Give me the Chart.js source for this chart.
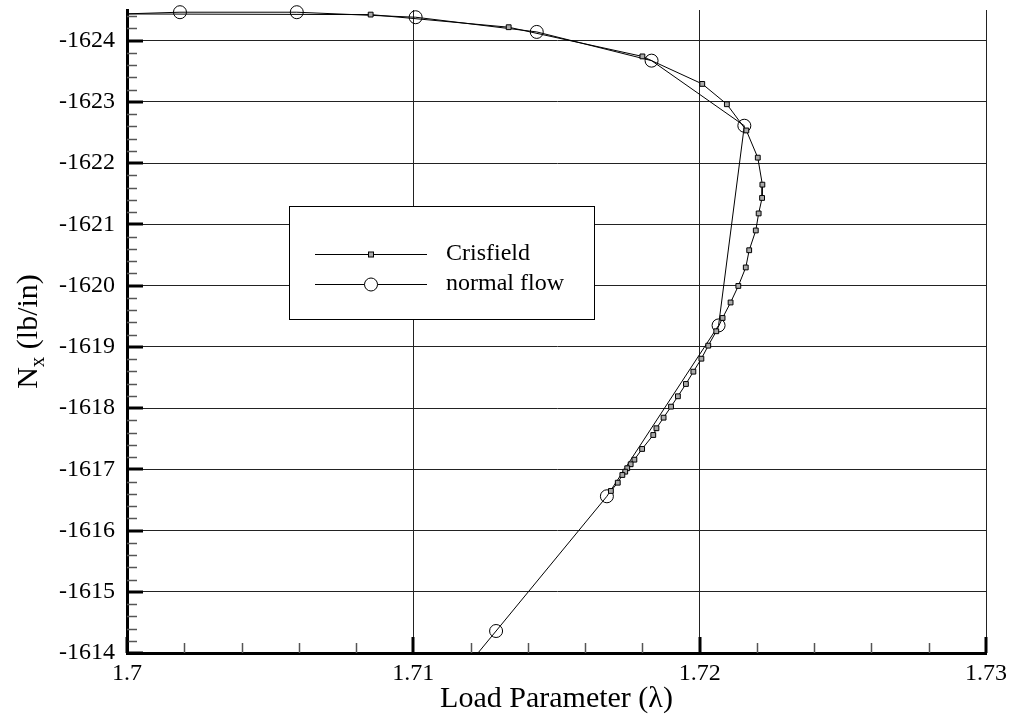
<!DOCTYPE html>
<html>
<head>
<meta charset="utf-8">
<script src="https://cdn.jsdelivr.net/npm/chart.js@4.4.1/dist/chart.umd.min.js"></script>
<style>
  body { margin: 0; background: #fff; }
  canvas { display: block; }
</style>
</head>
<body>
<canvas id="chart" width="1013" height="719"></canvas>
<script>
// values
const crisfieldX = [1.696, 1.70851, 1.71333, 1.71800, 1.72009, 1.72095, 1.72163, 1.72203, 1.72219, 1.72218,
  1.72206, 1.72196, 1.72173, 1.72161, 1.72135, 1.72108, 1.72080, 1.72058, 1.72030, 1.72006,
  1.71978, 1.71952, 1.71924, 1.71900, 1.71874, 1.71849, 1.71838, 1.71799, 1.71772, 1.71759,
  1.71747, 1.71740, 1.71730, 1.71714, 1.71690];
const crisfieldY = [-1624.44, -1624.425, -1624.219, -1623.742, -1623.293, -1622.961, -1622.533, -1622.089, -1621.648, -1621.431,
  -1621.178, -1620.900, -1620.577, -1620.296, -1619.994, -1619.724, -1619.471, -1619.254, -1619.019, -1618.806,
  -1618.594, -1618.393, -1618.192, -1618.023, -1617.843, -1617.670, -1617.560, -1617.332, -1617.157, -1617.082,
  -1617.017, -1616.961, -1616.907, -1616.781, -1616.646];

const normalX = [1.696, 1.70185, 1.70593, 1.71008, 1.71431, 1.71832, 1.72156, 1.72066, 1.71676, 1.71289, 1.70901];
const normalY = [-1624.38, -1624.464, -1624.464, -1624.382, -1624.142, -1623.673, -1622.610, -1619.349, -1616.559, -1614.359, -1612.159];

const seriesLabels = ['Crisfield', 'normal flow'];

const xTicks = [1.7, 1.71, 1.72, 1.73];
const yTicks = [-1614, -1615, -1616, -1617, -1618, -1619, -1620, -1621, -1622, -1623, -1624];
const xRange = [1.7, 1.73];
const yRange = [-1624.5, -1614];
const xMinorStep = 0.002;
const yMinorStep = 0.2;

const xTitle = 'Load Parameter (\u03bb)';
const yTitle = ['N', 'x', ' (lb/in)'];

const FONT = '"Liberation Serif", "Times New Roman", serif';

const toPoints = (xs, ys) => xs.map((v, i) => ({x: v, y: ys[i]}));

// inward ticks, like the original plot
const innerTicks = {
  id: 'innerTicks',
  afterDatasetsDraw(chart) {
    const {ctx, chartArea: a, scales: {x, y}} = chart;
    ctx.save();
    // minor
    ctx.lineWidth = 1.5;
    ctx.strokeStyle = '#555';
    for (let n = Math.ceil(xRange[0] / xMinorStep - 1e-6); n <= Math.floor(xRange[1] / xMinorStep + 1e-6); n++) {
      const v = n * xMinorStep;
      if (xTicks.some(t => Math.abs(t - v) < 1e-7)) continue;
      const px = Math.round(x.getPixelForValue(v)) + 0.5;
      ctx.beginPath(); ctx.moveTo(px, a.bottom); ctx.lineTo(px, a.bottom - 10); ctx.stroke();
    }
    for (let n = Math.ceil(yRange[0] / yMinorStep - 1e-6); n <= Math.floor(yRange[1] / yMinorStep + 1e-6); n++) {
      const v = n * yMinorStep;
      if (yTicks.some(t => Math.abs(t - v) < 1e-6)) continue;
      const py = Math.round(y.getPixelForValue(v)) + 0.5;
      ctx.beginPath(); ctx.moveTo(a.left, py); ctx.lineTo(a.left + 10, py); ctx.stroke();
    }
    // major
    ctx.lineWidth = 3;
    ctx.strokeStyle = '#000';
    xTicks.forEach(v => {
      const px = Math.round(x.getPixelForValue(v));
      ctx.beginPath(); ctx.moveTo(px, a.bottom); ctx.lineTo(px, a.bottom - 16); ctx.stroke();
    });
    yTicks.forEach(v => {
      const py = Math.round(y.getPixelForValue(v));
      ctx.beginPath(); ctx.moveTo(a.left, py); ctx.lineTo(a.left + 16, py); ctx.stroke();
    });
    ctx.restore();
  }
};

// y title with subscript
const yAxisTitle = {
  id: 'yAxisTitle',
  afterDraw(chart) {
    const {ctx, chartArea: a} = chart;
    const cy = (a.top + a.bottom) / 2;
    const big = '30px ' + FONT, small = '21px ' + FONT;
    ctx.save();
    ctx.translate(29, cy);
    ctx.rotate(-Math.PI / 2);
    ctx.fillStyle = '#000';
    ctx.textBaseline = 'middle';
    ctx.textAlign = 'left';
    ctx.font = big;
    const w0 = ctx.measureText(yTitle[0]).width;
    const w2 = ctx.measureText(yTitle[2]).width;
    ctx.font = small;
    const w1 = ctx.measureText(yTitle[1]).width;
    const sx = -(w0 + w1 + w2) / 2;
    ctx.font = big;
    ctx.fillText(yTitle[0], sx, 0);
    ctx.font = small;
    ctx.fillText(yTitle[1], sx + w0, 9);
    ctx.font = big;
    ctx.fillText(yTitle[2], sx + w0 + w1, 0);
    ctx.restore();
  }
};

// boxed legend inside the plot
const boxLegend = {
  id: 'boxLegend',
  afterDraw(chart) {
    const {ctx, chartArea: a} = chart;
    const bx = a.left + 162, by = a.top + 196, bw = 305, bh = 113;
    ctx.save();
    ctx.fillStyle = '#fff';
    ctx.fillRect(bx, by, bw, bh);
    ctx.strokeStyle = '#000';
    ctx.lineWidth = 1;
    ctx.strokeRect(bx + 0.5, by + 0.5, bw, bh);
    chart.data.datasets.forEach((ds, i) => {
      const ly = by + 48 + i * 30;
      ctx.strokeStyle = '#000';
      ctx.lineWidth = 1;
      ctx.beginPath(); ctx.moveTo(bx + 26, ly + 0.5); ctx.lineTo(bx + 138, ly + 0.5); ctx.stroke();
      const mx = bx + 82;
      if (ds.pointStyle === 'rect') {
        ctx.fillStyle = ds.pointBackgroundColor;
        ctx.fillRect(mx - 2.5, ly - 2, 5, 5);
        ctx.strokeRect(mx - 2.5, ly - 2, 5, 5);
      } else {
        ctx.beginPath(); ctx.arc(mx, ly + 0.5, ds.pointRadius, 0, Math.PI * 2);
        ctx.fillStyle = '#fff'; ctx.fill(); ctx.stroke();
      }
      ctx.fillStyle = '#000';
      ctx.font = '24px ' + FONT;
      ctx.textBaseline = 'middle';
      ctx.textAlign = 'left';
      ctx.fillText(ds.label, bx + 157, ly);
    });
    ctx.restore();
  }
};

new Chart(document.getElementById('chart'), {
  type: 'scatter',
  data: {
    datasets: [
      {
        label: seriesLabels[0],
        data: toPoints(crisfieldX, crisfieldY),
        showLine: true,
        borderColor: '#000',
        borderWidth: 1,
        pointStyle: 'rect',
        pointRadius: 3.4,
        pointBackgroundColor: '#aaa',
        pointBorderColor: '#000',
        pointBorderWidth: 1,
        tension: 0
      },
      {
        label: seriesLabels[1],
        data: toPoints(normalX, normalY),
        showLine: true,
        borderColor: '#000',
        borderWidth: 1,
        pointStyle: 'circle',
        pointRadius: 6.5,
        pointBackgroundColor: 'rgba(0,0,0,0)',
        pointBorderColor: '#000',
        pointBorderWidth: 1,
        tension: 0,
        clip: {left: 0, top: 10, right: 0, bottom: 0}
      }
    ]
  },
  options: {
    responsive: false,
    animation: false,
    events: [],
    layout: {padding: {top: 10, right: 27, left: 0, bottom: 0}},
    plugins: {legend: {display: false}, tooltip: {enabled: false}},
    scales: {
      x: {
        type: 'linear',
        min: xRange[0],
        max: xRange[1],
        afterBuildTicks: (s) => { s.ticks = xTicks.map(v => ({value: v})); },
        afterFit: (s) => { s.height = 66; s.paddingLeft = 0; s.paddingRight = 0; },
        ticks: {
          color: '#000',
          font: {family: FONT, size: 24},
          padding: 6,
          maxRotation: 0,
          callback: (v) => String(v)
        },
        grid: {color: '#222', lineWidth: 1, drawTicks: false},
        border: {display: true, color: '#000', width: 3},
        title: {
          display: true,
          text: xTitle,
          color: '#000',
          font: {family: FONT, size: 30},
          padding: {top: 0, bottom: 2}
        }
      },
      y: {
        type: 'linear',
        reverse: true,
        min: yRange[0],
        max: yRange[1],
        afterBuildTicks: (s) => { s.ticks = yTicks.map(v => ({value: v})); },
        afterFit: (s) => { s.width = 127; s.paddingTop = 0; s.paddingBottom = 0; },
        ticks: {
          color: '#000',
          font: {family: FONT, size: 24},
          padding: 12,
          callback: (v) => String(v)
        },
        grid: {color: '#222', lineWidth: 1, drawTicks: false},
        border: {display: true, color: '#000', width: 3}
      }
    }
  },
  plugins: [innerTicks, yAxisTitle, boxLegend]
});
</script>
</body>
</html>
